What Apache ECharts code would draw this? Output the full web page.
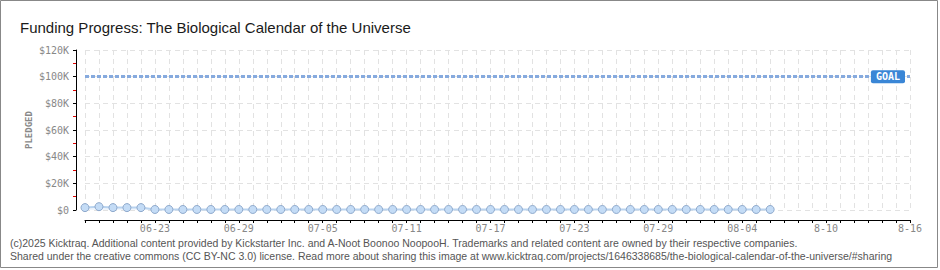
<!DOCTYPE html>
<html><head><meta charset="utf-8">
<script src="https://cdn.jsdelivr.net/npm/echarts@6/dist/echarts.min.js"></script>
<style>html,body{margin:0;padding:0;background:#fff}#c{width:940px;height:270px}</style>
</head><body><div id="c"></div>
<script>
// ---- data ----
const titleText = 'Funding Progress: The Biological Calendar of the Universe';
const firstDate = [6, 18];          // month, day of first category
const dayCount = 60;                // 06-18 .. 08-17
const monthLengths = {6: 30, 7: 31, 8: 31};
const tickDates  = ['06-23','06-29','07-05','07-11','07-17','07-23','07-29','08-04','08-10','08-16'];
const tickLabels = ['06-23','06-29','07-05','07-11','07-17','07-23','07-29','08-04','8-10','8-16'];
const pledged = [1800, 2500, 1800, 1800, 1800,
  400, 400, 400, 400, 400, 400, 400, 400, 400, 400,
  400, 400, 400, 400, 400, 400, 400, 400, 400, 400,
  400, 400, 400, 400, 400, 400, 400, 400, 400, 400,
  400, 400, 400, 400, 400, 400, 400, 400, 400, 400,
  400, 400, 400, 400, 400];
const goal = 100000;
const yTicks = {min: 0, max: 120000, interval: 20000};
const footer1 = '(c)2025 Kicktraq. Additional content provided by Kickstarter Inc. and A-Noot Boonoo NoopooH. Trademarks and related content are owned by their respective companies.';
const footer2 = 'Shared under the creative commons (CC BY-NC 3.0) license. Read more about sharing this image at www.kicktraq.com/projects/1646338685/the-biological-calendar-of-the-universe/#sharing';

// ---- build categories ----
const pad = n => (n < 10 ? '0' : '') + n;
const categories = [];
let m = firstDate[0], d = firstDate[1];
for (let i = 0; i < dayCount; i++) {
  categories.push(pad(m) + '-' + pad(d));
  d++; if (d > monthLengths[m]) { d = 1; m++; }
}

const pixFont = 'DejaVu Sans Mono';
const narrowFont = '"Liberation Sans", sans-serif';
const chart = echarts.init(document.getElementById('c'), null, {renderer: 'svg'});

chart.setOption({
  animation: false,
  backgroundColor: '#fff',
  title: {
    text: titleText, left: 15, top: 15,
    textStyle: {fontFamily: narrowFont, fontSize: 15, fontWeight: 'normal', color: '#1a1a1a'}
  },
  grid: {left: 85, right: 30, top: 50, bottom: 60},
  xAxis: {
    type: 'category', data: categories, boundaryGap: false, offset: 10,
    axisLine: {show: true, onZero: false, lineStyle: {color: '#000', width: 1}},
    axisTick: {show: true, interval: 0, length: 3, lineStyle: {color: '#000'}},
    axisLabel: {
      interval: (i, v) => tickDates.indexOf(v) >= 0,
      formatter: v => tickLabels[tickDates.indexOf(v)] || '',
      fontFamily: pixFont, fontSize: 10, color: '#888', margin: 3
    },
    splitLine: {show: true, interval: 0, lineStyle: {color: '#e2e2e2', type: [5, 4], width: 1}}
  },
  yAxis: {
    type: 'value', min: yTicks.min, max: yTicks.max, interval: yTicks.interval, offset: 9,
    name: 'PLEDGED', nameLocation: 'middle', nameGap: 43, nameRotate: 90, nameMoveOverlap: false,
    nameTextStyle: {fontFamily: pixFont, fontSize: 9, fontWeight: 'bold', color: '#888'},
    axisLine: {show: true, onZero: false, lineStyle: {color: '#000', width: 1}},
    axisTick: {show: true, length: 3, lineStyle: {color: '#000'}},
    minorTick: {show: true, splitNumber: 2, length: 3, lineStyle: {color: '#e00000'}},
    axisLabel: {
      formatter: v => '$' + (v === 0 ? '0' : (v / 1000) + 'K'),
      fontFamily: pixFont, fontSize: 10, color: '#888', margin: 7
    },
    splitLine: {show: true, lineStyle: {color: '#e2e2e2', type: [5, 4], width: 1}}
  },
  series: [{
    type: 'line', data: pledged,
    symbol: 'circle', symbolSize: 8,
    itemStyle: {color: '#c4dcf6', borderColor: '#8ea9cc', borderWidth: 1},
    lineStyle: {color: '#b9d3ef', width: 2},
    areaStyle: {color: '#e8f1fb'},
    markLine: {
      silent: true, symbol: 'none',
      lineStyle: {color: '#86aade', type: [4, 2], width: 3},
      label: {
        show: true, position: 'insideEnd', distance: 5, formatter: 'GOAL',
        backgroundColor: '#3a86d6', color: '#fff', padding: [2, 5, 1, 5], borderRadius: 2,
        fontFamily: pixFont, fontSize: 10, fontWeight: 'bold'
      },
      data: [{yAxis: goal}]
    }
  }],
  graphic: [
    {type: 'rect', shape: {x: 0.5, y: 0.5, width: 937, height: 267},
     style: {fill: 'none', stroke: '#888', lineWidth: 1}, silent: true},
    {type: 'text', left: 10, top: 237, style: {text: footer1, font: '10.5px ' + narrowFont, fill: '#555'}},
    {type: 'text', left: 10, top: 250, style: {text: footer2, font: '10.5px ' + narrowFont, fill: '#555'}}
  ]
});
</script></body></html>
